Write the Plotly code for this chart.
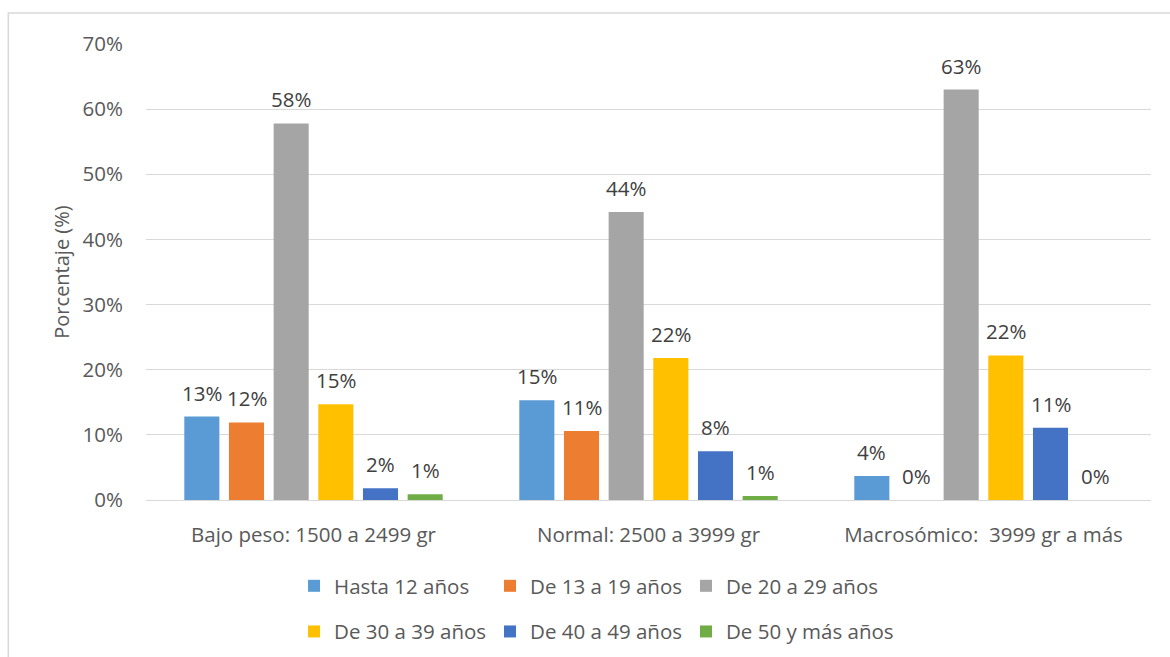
import plotly.graph_objects as go

# Birth-weight categories (x axis)
categories = ["Bajo peso: 1500 a 2499 gr", "Normal: 2500 a 3999 gr", "Macrosómico:  3999 gr a más"]

# Maternal age groups (one bar series each)
age_groups = ["Hasta 12 años", "De 13 a 19 años", "De 20 a 29 años",
              "De 30 a 39 años", "De 40 a 49 años", "De 50 y más años"]

# Percentage of each age group per weight category
hasta_12 = [12.8, 15.3, 3.7]
de_13_19 = [11.9, 10.6, 0.0]
de_20_29 = [57.8, 44.2, 63.0]
de_30_39 = [14.7, 21.8, 22.2]
de_40_49 = [1.8, 7.5, 11.1]
de_50_mas = [0.9, 0.6, 0.0]

series = [hasta_12, de_13_19, de_20_29, de_30_39, de_40_49, de_50_mas]
colors = ["#5B9BD5", "#ED7D31", "#A5A5A5", "#FFC000", "#4472C4", "#70AD47"]

y_ticks = [0, 10, 20, 30, 40, 50, 60, 70]
y_tick_labels = ["0%", "10%", "20%", "30%", "40%", "50%", "60%", "70%"]

FONT = "Open Sans"
TICK_COLOR = "#595959"
LABEL_COLOR = "#404040"
BARGAP = 0.2
BARGROUPGAP = 0.215

# Legend laid out as a 3-column grid: one vertical legend per column
legend_ids = ["legend", "legend2", "legend3"]

fig = go.Figure()
for i, (name, vals, col) in enumerate(zip(age_groups, series, colors)):
    fig.add_trace(go.Bar(
        x=categories, y=vals, name=name,
        marker=dict(color=col, line=dict(width=0)),
        legend=legend_ids[i % 3], legendgroup=name,
        hoverinfo="skip",
    ))

# Data labels above each bar, placed at the bar's slot within its group
n = len(series)
slot = (1 - BARGAP) / n
annotations = []
for i, vals in enumerate(series):
    for c, v in enumerate(vals):
        annotations.append(dict(
            x=c + (i - (n - 1) / 2) * slot, y=v, xref="x", yref="y",
            text=f"{round(v)}%", showarrow=False, yanchor="middle", yshift=24,
            font=dict(family=FONT, size=20.5, color=LABEL_COLOR),
        ))

legend_style = dict(
    orientation="v", xanchor="left", yanchor="top", y=-0.1447,
    font=dict(family=FONT, size=20.5, color=TICK_COLOR),
    bgcolor="rgba(0,0,0,0)", itemclick=False, itemdoubleclick=False,
    traceorder="grouped", tracegroupgap=16,
)

fig.update_layout(
    width=1170, height=657,
    margin=dict(l=146, r=19, t=44, b=157, autoexpand=False),
    paper_bgcolor="white", plot_bgcolor="white",
    barmode="group", bargap=BARGAP, bargroupgap=BARGROUPGAP,
    font=dict(family=FONT, color=TICK_COLOR),
    showlegend=True,
    legend=dict(x=0.1473, **legend_style),
    legend2=dict(x=0.3423, **legend_style),
    legend3=dict(x=0.5373, **legend_style),
    annotations=annotations,
    shapes=[dict(type="rect", xref="paper", yref="paper",
                 x0=-0.137, x1=1.03, y0=-0.4, y1=1.068,
                 line=dict(color="#D9D9D9", width=1.5), fillcolor="rgba(0,0,0,0)",
                 layer="below")],
)

fig.update_xaxes(
    showgrid=False, showline=False, zeroline=False,
    tickfont=dict(family=FONT, size=20.5, color=TICK_COLOR),
    ticks="", ticklabelstandoff=20,
)
fig.update_yaxes(
    range=[0, 70], tickmode="array", tickvals=y_ticks, ticktext=y_tick_labels,
    showgrid=True, gridcolor="#D9D9D9", gridwidth=1.2,
    zeroline=True, zerolinecolor="#D9D9D9", zerolinewidth=1.2,
    showline=False, ticks="",
    tickfont=dict(family=FONT, size=20.5, color=TICK_COLOR),
    ticklabelstandoff=22,
    title=dict(text="Porcentaje (%)", font=dict(family=FONT, size=20, color=TICK_COLOR), standoff=7),
)

fig.write_html("out.html")
